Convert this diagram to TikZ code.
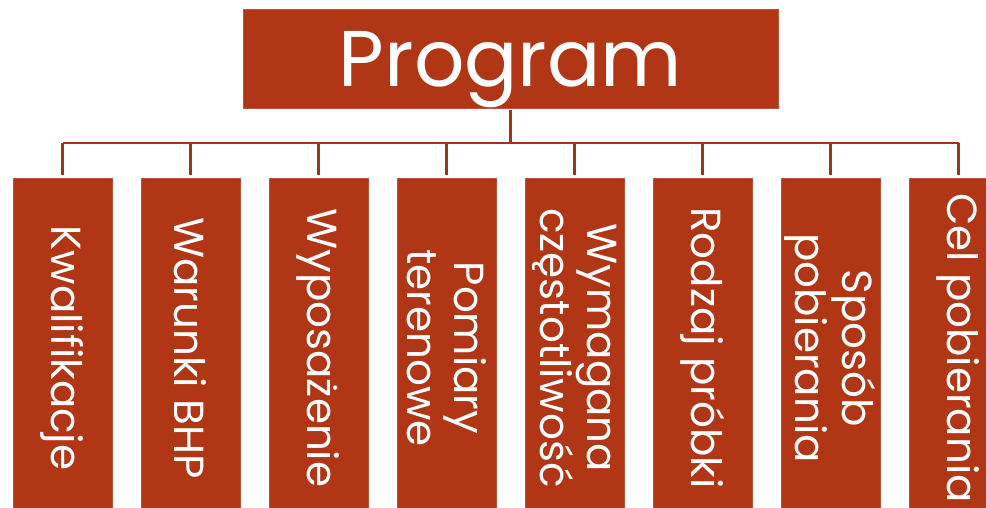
\documentclass[tikz,border=0pt]{standalone}
\usepackage{fontspec}
\setmainfont{Poppins}
\definecolor{boxfill}{RGB}{176,54,22}
\definecolor{linecol}{RGB}{162,50,28}
\begin{document}
\begin{tikzpicture}[x=1pt,y=-1pt,
  topbox/.style={fill=boxfill,draw=boxfill!85!white,line width=0.8pt,minimum width=535pt,minimum height=99pt,inner sep=0pt,outer sep=0pt,text=white,text height=70pt,text depth=14pt,font=\fontsize{79}{86}\selectfont},
  childbox/.style={fill=boxfill,draw=boxfill!85!white,line width=0.8pt,rotate=-90,minimum width=340pt,minimum height=99pt,inner sep=0pt,outer sep=0pt,text=white,align=center,font=\fontsize{42}{47}\selectfont},
  conn/.style={draw=linecol,line width=2.4pt}]
\useasboundingbox (0,0) rectangle (986,508);
\node[topbox] (top) at (510.5,58.5) {Program};
\coordinate (bus) at (510.5,143);
\node[childbox] (c1) at (62.5,348) {Kwalifikacje};
\node[childbox] (c2) at (190.5,348) {Warunki BHP};
\node[childbox] (c3) at (318.5,348) {Wyposażenie};
\node[childbox] (c4) at (446.5,348) {Pomiary\\terenowe};
\node[childbox] (c5) at (574.5,348) {Wymagana\\częstotliwość};
\node[childbox] (c6) at (702.5,348) {Rodzaj próbki};
\node[childbox] (c7) at (830.5,348) {Sposób\\pobierania};
\node[childbox] (c8) at (958.5,348) {Cel pobierania};
\draw[conn] ([yshift=-2pt]top.south) -- (bus);
\draw[conn] (c1.west |- bus) -- (c8.west |- bus);
\foreach \i in {1,...,8}{
  \draw[conn,shorten >=3pt] (c\i.west |- bus) -- (c\i.west);
}
\end{tikzpicture}
\end{document}
